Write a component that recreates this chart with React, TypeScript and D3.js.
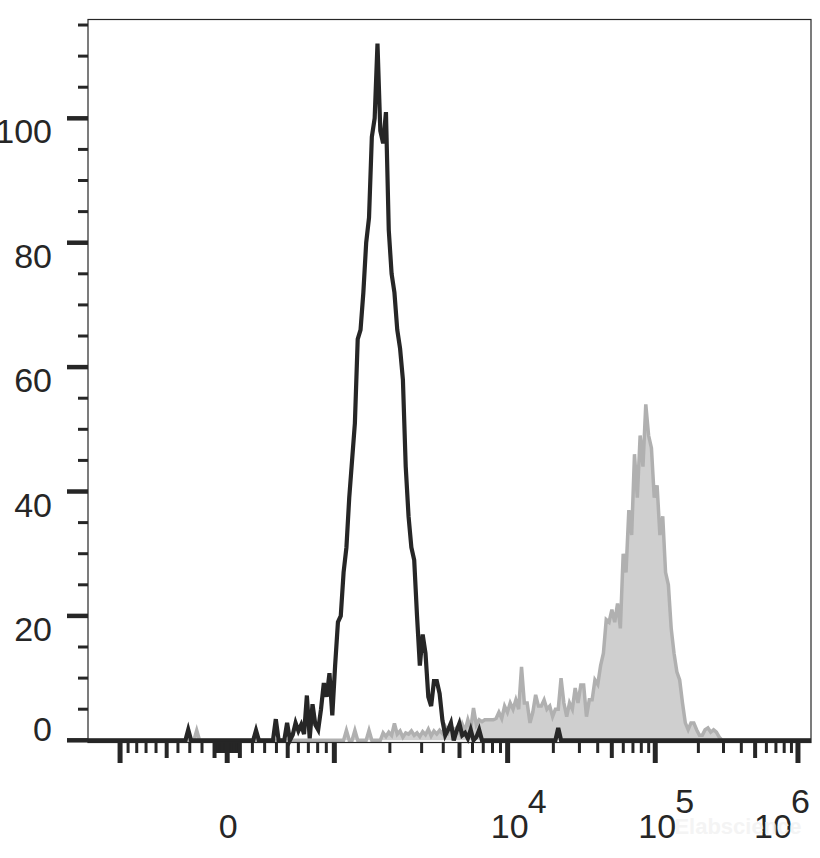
import React from 'react';
import * as d3 from 'd3';

// ---------------- data ----------------
const NBINS = 256; // histogram channels across the display range

// unstained / isotype (black outline) counts, starting at channel 30
const blackStart = 30;
const blackCounts = [
  0, 0, 0, 0, 0, 1.7, 0, 0, 0, 0, // 30-39
  0, 0, 0, 0, 0, 0, 0, 0, 0, 0, // 40-49
  0, 0, 0, 0, 0, 0, 0, 0, 0, 1.6, // 50-59
  0, 0, 0, 0, 0, 0, 3.4, 0, 0, 0, // 60-69
  2.8, 0, 0.9, 2.8, 1.5, 2.5, 1, 7.2, 0.3, 5.8, // 70-79
  2.5, 1.7, 5, 9.2, 7, 10.8, 4, 12, 19, 20, // 80-89
  27, 31, 39, 45, 51, 64.5, 66, 72, 80, 84, // 90-99
  97, 100, 112, 98, 96, 101, 82, 75, 72, 66, // 100-109
  63, 58, 44, 36, 31, 29, 20, 12, 17, 14, // 110-119
  7, 5.5, 9.5, 9.5, 7.5, 3.2, 0.8, 1.7, 2.8, 0, // 120-129
  1.5, 2.7, 0.8, 1.2, 0.3, 1.7, 0, 0.5, 1.7, 0, // 130-139
  0, 0, 0, 0, 0, 0, 0, 0, 0, 0, // 140-149
  0, 0, 0, 0, 0, 0, 0, 0, 0, 0, // 150-159
  0, 0, 0, 0, 0, 0, 2, 0, 0, 0, // 160-169
];

// stained sample (grey filled) counts, starting at channel 38
const grayStart = 38;
const grayCounts = [
  1.6, 0, // 38-39
  0, 0, 0, 0, 0, 0, 0, 0, 0, 0, // 40-49
  0, 0, 0, 0, 0, 0, 0, 0, 0, 0, // 50-59
  0, 0, 0, 0, 0, 0, 0, 0, 0, 0, // 60-69
  0, 0, 0, 0, 0, 0, 0, 0, 0, 0, // 70-79
  0, 0, 0, 0, 0, 0, 0, 0, 0, 0, // 80-89
  0, 1.6, 0, 0, 1.6, 0, 0, 0, 0, 1.6, // 90-99
  0, 0, 0, 0, 1.2, 0.6, 1.3, 0.8, 2.7, 1, // 100-109
  1.5, 0.5, 1.2, 1, 1.5, 0.8, 1.2, 0.6, 1.4, 0.9, // 110-119
  1.8, 0.7, 1.5, 1, 1.6, 1.1, 2.2, 1.3, 2.4, 1.6, // 120-129
  2, 1.2, 2.6, 1.5, 3.3, 1.8, 5.2, 2.5, 3.3, 3, // 130-139
  3.3, 3.3, 3.3, 3.3, 3.5, 4.5, 3.5, 5.5, 4.5, 6, // 140-149
  5, 6.5, 5, 11.8, 6, 6, 2.8, 4.5, 7.3, 5.5, // 150-159
  5.5, 6.5, 5, 5.5, 3.8, 5, 5, 10, 6, 3.8, // 160-169
  6, 5, 8.4, 6, 8.9, 8.9, 3.8, 6.5, 6.5, 9.7, // 170-179
  9, 12, 14, 19.4, 19, 21, 19, 22, 18, 30, // 180-189
  27, 37, 33, 46, 39, 49, 44, 54, 49, 47, // 190-199
  39, 41, 33, 36, 27, 25, 18, 14, 11, 9.7, // 200-209
  6, 2.8, 1.7, 2.8, 2.8, 1.7, 0.8, 0.8, 1.7, 2, // 210-219
  1.3, 1.7, 1.3, 0.5, 0, // 220-224
];

const yMajorTicks = [0, 20, 40, 60, 80, 100];
const yMinorTicks = [5, 10, 15, 25, 30, 35, 45, 50, 55, 65, 70, 75, 85, 90, 95, 105, 110, 115];

const xLongTicks = [-1000, 0, 1000, 1e4, 1e5, 1e6];
const xMediumTicks = [-500, -100, 100, 500, 5000, 5e4, 5e5];
const xMinorTicks = [
  -900, -800, -700, -600, -400, -300, -200,
  -90, -80, -70, -60, -50, -40, -30, -20, -10,
  10, 20, 30, 40, 50, 60, 70, 80, 90,
  200, 300, 400, 600, 700, 800, 900,
  2000, 3000, 4000, 6000, 7000, 8000, 9000,
  2e4, 3e4, 4e4, 6e4, 7e4, 8e4, 9e4,
  2e5, 3e5, 4e5, 6e5, 7e5, 8e5, 9e5,
];
const xLabels = [
  { value: 0, base: '0', exp: '' },
  { value: 1e4, base: '10', exp: '4' },
  { value: 1e5, base: '10', exp: '5' },
  { value: 1e6, base: '10', exp: '6' },
];

// ---------------- logicle transform ----------------
const LOGICLE = { T: 1.235e6, W: 0.98, M: 5.09, A: 0 };

function makeLogicle({ T, W, M, A }: { T: number; W: number; M: number; A: number }) {
  const w = W / (M + A);
  const x2 = A / (M + A);
  const x1 = x2 + w;
  const x0 = x2 + 2 * w;
  const b = (M + A) * Math.LN10;
  let lo = 1e-6, hi = b;
  for (let i = 0; i < 100; i++) {
    const mid = (lo + hi) / 2;
    const f = 2 * (Math.log(mid) - Math.log(b)) + w * (b + mid);
    if (f > 0) hi = mid; else lo = mid;
  }
  const d = (lo + hi) / 2;
  const ca = Math.exp(x0 * (b + d));
  const mfa = Math.exp(b * x1) - ca * Math.exp(-d * x1);
  const a = T / ((Math.exp(b) - mfa) - ca * Math.exp(-d));
  const c = ca * a;
  const f = -mfa * a;
  const Spos = (yv: number) => a * Math.exp(b * yv) - c * Math.exp(-d * yv) + f;
  // logicle is symmetric about the zero point x1
  const S = (yv: number) => (yv >= x1 ? Spos(yv) : -Spos(2 * x1 - yv));
  const inverse = (v: number) => {
    let l = -0.5, h = 1.5;
    for (let i = 0; i < 80; i++) {
      const m = (l + h) / 2;
      if (S(m) < v) l = m; else h = m;
    }
    return (l + h) / 2;
  };
  return inverse;
}

const toDisplay = makeLogicle(LOGICLE);

// ---------------- chart ----------------
export default function App() {
  const W = 820, H = 858;
  const left = 88, right = 811, top = 19.5, bottom = 742.5;

  const xDisp = d3.scaleLinear().domain([0, 1]).range([left, right]);
  const xChan = (c: number) => xDisp((c + 0.5) / NBINS);
  const xVal = (v: number) => xDisp(toDisplay(v));
  const y = d3.scaleLinear().domain([0, 116]).range([740.3, 18.8]);

  const full = (start: number, counts: number[]) => {
    const arr: [number, number][] = [[left, 0]];
    for (let c = 0; c < NBINS; c++) {
      const i = c - start;
      const v = i >= 0 && i < counts.length ? counts[i] : 0;
      arr.push([xChan(c), v]);
    }
    arr.push([right, 0]);
    return arr;
  };
  const blackPts = full(blackStart, blackCounts);
  const grayPts = full(grayStart, grayCounts);

  const line = d3.line<[number, number]>().x((d) => d[0]).y((d) => y(d[1]));
  const area = d3
    .area<[number, number]>()
    .x((d) => d[0])
    .y0(y(0))
    .y1((d) => y(d[1]));

  const ink = '#262626';
  const fontFamily = "'Liberation Sans', Arial, Helvetica, sans-serif";
  const tickTop = 743;

  return (
    <svg
      width={W}
      height={H}
      style={{ position: 'absolute', left: 0, top: 0, background: '#fff' }}
    >
      <rect x={0} y={0} width={W} height={H} fill="#fff" />
      {/* grey filled histogram */}
      <path d={area(grayPts) || ''} fill="#cfcfcf" stroke="none" />
      <path d={line(grayPts) || ''} fill="none" stroke="#b0b0b0" strokeWidth={3.5} />
      {/* black outline histogram */}
      <path d={line(blackPts) || ''} fill="none" stroke={ink} strokeWidth={4.2} />
      {/* frame */}
      <rect
        x={left}
        y={top}
        width={right - left}
        height={bottom - top}
        fill="none"
        stroke={ink}
        strokeWidth={1.2}
      />
      {/* y ticks */}
      {yMajorTicks.map((t) => (
        <line key={'ym' + t} x1={left - 21} x2={left} y1={y(t)} y2={y(t)} stroke={ink} strokeWidth={4.5} />
      ))}
      {yMinorTicks.map((t) => (
        <line key={'yn' + t} x1={left - 10} x2={left} y1={y(t)} y2={y(t)} stroke={ink} strokeWidth={3} />
      ))}
      {yMajorTicks.map((t) => (
        <text
          key={'yl' + t}
          x={52}
          y={Math.min(y(t) + 25, y(0) + 1)}
          textAnchor="end"
          fontFamily={fontFamily}
          fontSize={34}
          fill={ink}
        >
          {t}
        </text>
      ))}
      {/* x ticks */}
      {xMinorTicks.map((t) => (
        <line key={'xn' + t} x1={xVal(t)} x2={xVal(t)} y1={tickTop} y2={tickTop + 10} stroke={ink} strokeWidth={3} />
      ))}
      {xMediumTicks.map((t) => (
        <line key={'xm' + t} x1={xVal(t)} x2={xVal(t)} y1={tickTop} y2={tickTop + 15} stroke={ink} strokeWidth={4} />
      ))}
      {xLongTicks.map((t) => (
        <line key={'xl' + t} x1={xVal(t)} x2={xVal(t)} y1={tickTop} y2={tickTop + 20} stroke={ink} strokeWidth={5} />
      ))}
      {xLabels.map((l) => {
        const px = xVal(l.value);
        if (!l.exp) {
          return (
            <text key={'xt' + l.value} x={px + 1} y={838} textAnchor="middle" fontFamily={fontFamily} fontSize={34} fill={ink}>
              {l.base}
            </text>
          );
        }
        const rightEnd = px + 39;
        const shift = Math.min(0, 810 - rightEnd);
        return (
          <g key={'xt' + l.value} transform={`translate(${shift},0)`}>
            <text x={px + 2} y={838} textAnchor="middle" fontFamily={fontFamily} fontSize={34} fill={ink}>
              {l.base}
            </text>
            <text x={px + 20} y={813} textAnchor="start" fontFamily={fontFamily} fontSize={34} fill={ink}>
              {l.exp}
            </text>
          </g>
        );
      })}
      {/* watermark */}
      <text
        x={738}
        y={834}
        textAnchor="middle"
        fontFamily={fontFamily}
        fontWeight="bold"
        fontSize={22}
        fill="#f2f2f2"
        fillOpacity={0.85}
      >
        Elabscience
      </text>
    </svg>
  );
}
